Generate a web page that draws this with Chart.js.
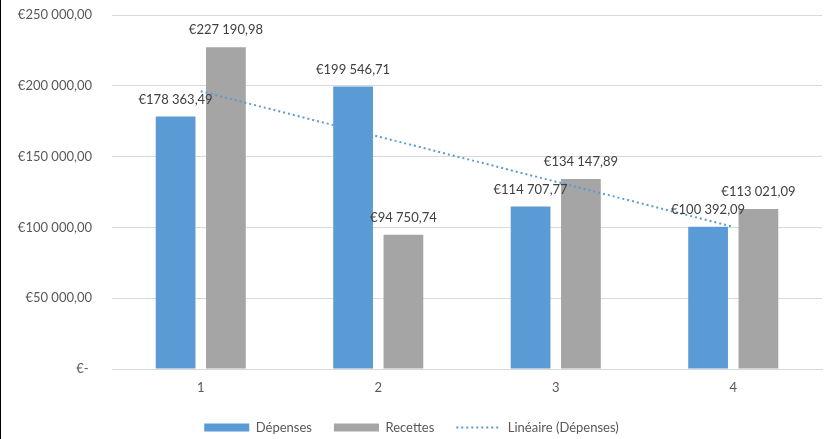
<!DOCTYPE html>
<html>
<head>
<meta charset="utf-8">
<script src="https://cdn.jsdelivr.net/npm/chart.js@4.4.1/dist/chart.umd.min.js"></script>
<style>
  html, body { margin: 0; padding: 0; background: #fff; }
  #wrap { width: 829px; height: 439px; position: relative; box-sizing: border-box; border-left: 1px solid #000; }
</style>
</head>
<body>
<div id="wrap"><canvas id="myChart"></canvas></div>
<script>
// chart data
const periods = ['1', '2', '3', '4'];
const depenses = [178363.49, 199546.71, 114707.77, 100392.09];
const recettes = [227190.98, 94750.74, 134147.89, 113021.09];
// linear trend of Dépenses
const trendDepenses = [196100, 164200, 132300, 100400];
const yTicks = [0, 50000, 100000, 150000, 200000, 250000];

const BLUE = '#5B9BD5';
const GRAY = '#A5A5A5';
const FONT = 'Lato, "Open Sans", sans-serif';

// "€178 363,49" style
function euro(v, zeroDash) {
  if (zeroDash && v === 0) return '€- ';
  let parts = v.toFixed(2).split('.');
  let intPart = parts[0].replace(/\B(?=(\d{3})+(?!\d))/g, ' ');
  return '€' + intPart + ',' + parts[1];
}

// labels above the bars
const barLabels = {
  id: 'barLabels',
  afterDatasetsDraw(chart) {
    const ctx = chart.ctx;
    ctx.save();
    ctx.font = '13px ' + FONT;
    ctx.fillStyle = '#404040';
    ctx.textAlign = 'center';
    ctx.textBaseline = 'middle';
    chart.data.datasets.forEach((ds, i) => {
      if (ds.type === 'line') return;
      chart.getDatasetMeta(i).data.forEach((bar, j) => {
        ctx.fillText(euro(ds.data[j]), bar.x, bar.y - 17);
      });
    });
    ctx.restore();
  }
};

let chart = new Chart(document.getElementById('myChart').getContext('2d'), {
  type: 'bar',
  data: {
    labels: periods,
    datasets: [
      {
        label: 'Dépenses',
        data: depenses,
        backgroundColor: BLUE,
        borderWidth: 0,
        categoryPercentage: 0.567,
        barPercentage: 0.79,
        order: 2
      },
      {
        label: 'Recettes',
        data: recettes,
        backgroundColor: GRAY,
        borderWidth: 0,
        categoryPercentage: 0.567,
        barPercentage: 0.79,
        order: 3
      },
      {
        type: 'line',
        label: 'Linéaire (Dépenses)',
        data: trendDepenses,
        borderColor: BLUE,
        backgroundColor: BLUE,
        borderWidth: 2,
        borderDash: [2, 3],
        pointRadius: 0,
        fill: false,
        order: 1
      }
    ]
  },
  options: {
    responsive: true,
    maintainAspectRatio: false,
    animation: false,
    layout: { padding: { top: 15, right: 7, left: 0, bottom: -5 } },
    scales: {
      x: {
        grid: { display: false, drawTicks: false },
        border: { color: '#D9D9D9', width: 1 },
        ticks: { color: '#595959', font: { family: FONT, size: 13 }, padding: 11 },
        afterFit(scale) { scale.height = 30; }
      },
      y: {
        min: 0,
        max: 250000,
        afterBuildTicks(scale) { scale.ticks = yTicks.map(v => ({ value: v })); },
        grid: { color: '#D9D9D9', drawTicks: false },
        border: { display: false },
        ticks: {
          color: '#595959',
          font: { family: FONT, size: 13 },
          padding: 20,
          callback: (v) => euro(v, true)
        },
        afterFit(scale) {
          scale.width = 111;
          scale.paddingTop = 0;
          scale.paddingBottom = 0;
        }
      }
    },
    plugins: {
      legend: {
        position: 'bottom',
        labels: {
          color: '#595959',
          font: { family: FONT, size: 13 },
          usePointStyle: true,
          pointStyleWidth: 45,
          boxHeight: 8,
          padding: 22,
          generateLabels(c) {
            return c.data.datasets.map((ds, i) => ({
              text: ds.label,
              datasetIndex: i,
              fillStyle: ds.backgroundColor,
              strokeStyle: ds.type === 'line' ? ds.borderColor : ds.backgroundColor,
              lineWidth: ds.type === 'line' ? 2 : 0,
              lineDash: ds.type === 'line' ? [2, 3] : [],
              pointStyle: ds.type === 'line' ? 'line' : 'rect',
              fontColor: '#595959'
            }));
          }
        }
      },
      tooltip: { enabled: false }
    }
  },
  plugins: [barLabels]
});
</script>
</body>
</html>
